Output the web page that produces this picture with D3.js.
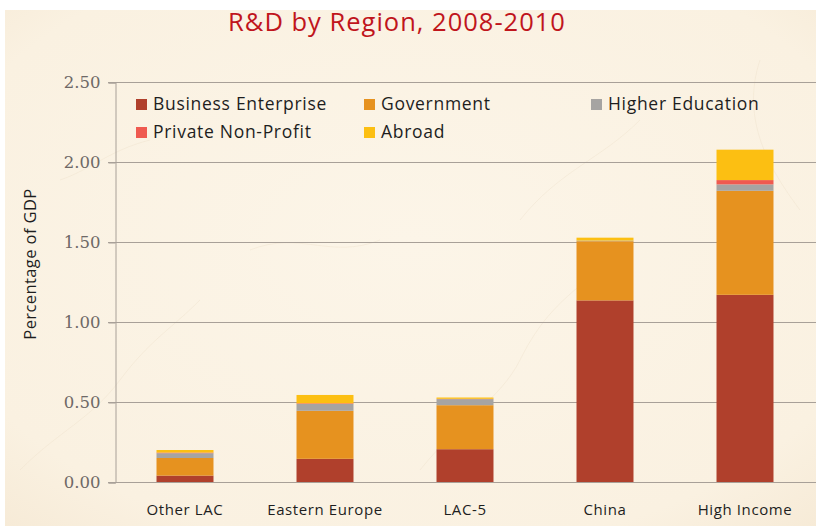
<!DOCTYPE html>
<html>
<head>
<meta charset="utf-8">
<script src="https://cdn.jsdelivr.net/npm/d3@7"></script>
<style>
  html, body { margin: 0; padding: 0; background: #ffffff; }
  svg { display: block; }
</style>
</head>
<body>
<svg id="chart" width="816" height="526"></svg>
<script>
// R&D expenditure by source of funds, % of GDP
const regions = ["Other LAC", "Eastern Europe", "LAC-5", "China", "High Income"];
const business   = [0.04, 0.145, 0.205, 1.135, 1.17];
const government = [0.11, 0.30, 0.275, 0.37, 0.65];
const higherEd   = [0.03, 0.043, 0.038, 0.004, 0.04];
const nonProfit  = [0.004, 0.004, 0.002, 0.0, 0.027];
const abroad     = [0.016, 0.052, 0.008, 0.018, 0.19];
const seriesNames = ["Business Enterprise", "Government", "Higher Education", "Private Non-Profit", "Abroad"];
const seriesColors = ["#b0402c", "#e6921f", "#a6a4a2", "#ef5a50", "#fcbf12"];
const yTicks = [0, 0.5, 1.0, 1.5, 2.0, 2.5];

const seriesValues = [business, government, higherEd, nonProfit, abroad];
const rows = regions.map((r, i) => {
  const o = { region: r };
  seriesNames.forEach((s, k) => { o[s] = seriesValues[k][i]; });
  return o;
});

const svg = d3.select("#chart");
const W = 816, H = 526;

// parchment backdrop
const defs = svg.append("defs");
const grad = defs.append("radialGradient").attr("id", "paper")
  .attr("cx", "50%").attr("cy", "45%").attr("r", "80%");
grad.append("stop").attr("offset", "0%").attr("stop-color", "#fcf5e8");
grad.append("stop").attr("offset", "75%").attr("stop-color", "#faf1e1");
grad.append("stop").attr("offset", "100%").attr("stop-color", "#f5e8d3");
svg.append("rect").attr("x", 5).attr("y", 10).attr("width", W - 5).attr("height", H - 10)
  .attr("fill", "url(#paper)");

// faint marble veins
const veins = [
  "M20,470 C60,430 90,420 120,380 S170,330 200,300",
  "M60,180 C90,170 110,150 150,140",
  "M420,470 C460,420 500,400 520,360 S560,300 600,270",
  "M760,60 C740,120 770,170 800,210",
  "M640,120 C600,160 560,170 520,220",
  "M250,250 C300,230 330,260 380,240"
];
svg.append("g").selectAll("path").data(veins).join("path")
  .attr("d", d => d).attr("fill", "none")
  .attr("stroke", "#eadcc6").attr("stroke-width", 1).attr("opacity", 0.35);

const x = d3.scaleBand().domain(regions).range([115, 815])
  .paddingInner(0.593).paddingOuter(0.2965);
const y = d3.scaleLinear().domain([0, 2.5]).range([482, 82]);

// gridlines
svg.append("g").selectAll("line").data(yTicks).join("line")
  .attr("x1", 108).attr("x2", 816)
  .attr("y1", d => Math.round(y(d)) + 0.5).attr("y2", d => Math.round(y(d)) + 0.5)
  .attr("stroke", "#a8a098").attr("stroke-width", 1);

// y axis
const yAxis = svg.append("g").attr("transform", "translate(115.5,0.5)")
  .call(d3.axisLeft(y).tickValues(yTicks).tickFormat(d3.format(".2f")).tickSize(7).tickPadding(8));
yAxis.select(".domain").attr("stroke", "#a8a098");
yAxis.selectAll(".tick line").attr("stroke", "#a8a098");
yAxis.selectAll(".tick text")
  .attr("font-family", "'DejaVu Serif', serif").attr("font-size", 16.5)
  .attr("fill", "#6e6866");

// stacked bars
const stack = d3.stack().keys(seriesNames);
const layers = stack(rows);
svg.append("g").selectAll("g").data(layers).join("g")
  .attr("fill", (d, i) => seriesColors[i])
  .selectAll("rect").data(d => d).join("rect")
  .attr("x", d => x(d.data.region))
  .attr("width", x.bandwidth())
  .attr("y", d => y(d[1]))
  .attr("height", d => Math.max(0, y(d[0]) - y(d[1])));

// category labels
svg.append("g").selectAll("text").data(regions).join("text")
  .attr("x", d => x(d) + x.bandwidth() / 2)
  .attr("y", 515)
  .attr("text-anchor", "middle")
  .attr("font-family", "'Open Sans', sans-serif").attr("font-size", 15)
  .attr("letter-spacing", 0.6)
  .attr("fill", "#1e1e1e")
  .text(d => d);

// y axis title
svg.append("text")
  .attr("transform", "translate(36,264) rotate(-90)")
  .attr("text-anchor", "middle")
  .attr("font-family", "'Open Sans', sans-serif").attr("font-size", 16.5)
  .attr("letter-spacing", 0.4)
  .attr("fill", "#1e1e1e")
  .text("Percentage of GDP");

// title
svg.append("text")
  .attr("x", 397).attr("y", 31)
  .attr("text-anchor", "middle")
  .attr("font-family", "'Open Sans', sans-serif").attr("font-size", 25.5)
  .attr("letter-spacing", 1)
  .attr("fill", "#c0151c")
  .text("R&D by Region, 2008-2010");

// legend
const legendPos = [[136, 99], [364, 99], [591, 99], [136, 127], [364, 127]];
const legend = svg.append("g").selectAll("g").data(seriesNames).join("g")
  .attr("transform", (d, i) => `translate(${legendPos[i][0]},${legendPos[i][1]})`);
legend.append("rect").attr("width", 11).attr("height", 11)
  .attr("fill", (d, i) => seriesColors[i]);
legend.append("text").attr("x", 17).attr("y", 11)
  .attr("font-family", "'Open Sans', sans-serif").attr("font-size", 17.5)
  .attr("letter-spacing", 0.7)
  .attr("fill", "#1e1e1e")
  .text(d => d);
</script>
</body>
</html>
